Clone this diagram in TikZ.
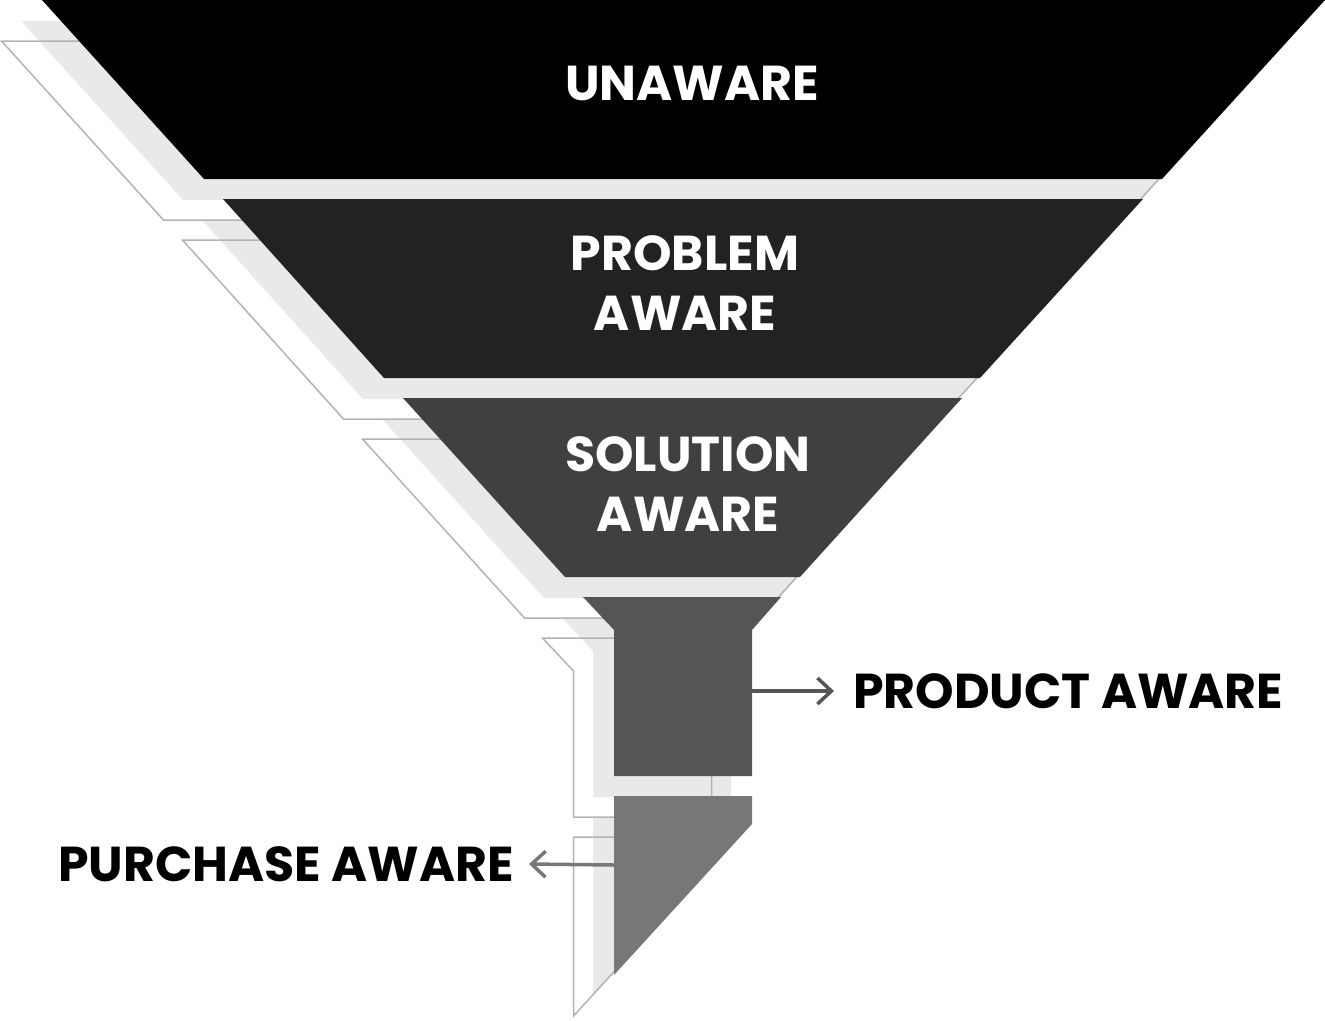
\documentclass[tikz,border=0pt]{standalone}
\usepackage{fontspec}
\setmainfont{Poppins}
\usetikzlibrary{arrows.meta}
\definecolor{segA}{HTML}{000000}
\definecolor{segB}{HTML}{222222}
\definecolor{segC}{HTML}{404040}
\definecolor{segD}{HTML}{555555}
\definecolor{segE}{HTML}{777777}
\definecolor{shadecol}{HTML}{E9E9E9}
\definecolor{rimcol}{HTML}{B3B3B3}
\newcommand\fnlPartA{(42,0) -- (1325,0) -- (1162,179) -- (204,179) -- cycle}
\newcommand\fnlPartB{(223,199) -- (1143,199) -- (980,378) -- (384,378) -- cycle}
\newcommand\fnlPartC{(403,398) -- (962,398) -- (800,577) -- (565,577) -- cycle}
\newcommand\fnlPartD{(583,597) -- (781,597) -- (752,630) -- (752,776) -- (614,776) -- (614,630) -- cycle}
\newcommand\fnlPartE{(614,796) -- (752,796) -- (752,824) -- (614,975) -- cycle}
\tikzset{
  shadowpart/.style={fill=shadecol, shift={(-21,21)}},
  rimpart/.style={draw=rimcol, line width=1.5pt, line join=miter, shift={(-40.5,41)}},
  inlbl/.style={text=white, font=\bfseries\fontsize{49}{60}\selectfont, align=center, inner sep=0pt},
  outlbl/.style={text=black, font=\bfseries\fontsize{49}{60}\selectfont, inner sep=0pt},
  arr/.style={line width=3.5pt, -{Straight Barb[length=14pt,width=26pt]}}
}
\begin{document}
\begin{tikzpicture}[x=1pt,y=-1pt]
\useasboundingbox (0,0) rectangle (1325,1020);
% shadows
\fill[shadowpart] \fnlPartA;
\fill[shadowpart] \fnlPartB;
\fill[shadowpart] \fnlPartC;
\fill[shadowpart] \fnlPartD;
\fill[shadowpart] \fnlPartE;
% rims
\draw[rimpart] \fnlPartA;
\draw[rimpart] \fnlPartB;
\draw[rimpart] \fnlPartC;
\draw[rimpart] \fnlPartD;
\draw[rimpart] \fnlPartE;
% segments
\fill[segA] \fnlPartA;
\fill[segB] \fnlPartB;
\fill[segC] \fnlPartC;
\fill[segD] \fnlPartD;
\fill[segE] \fnlPartE;
% labels
\node[inlbl] (unaware) at (692,83.5) {UNAWARE};
\node[inlbl] (problem) at (685,283.5) {PROBLEM\\AWARE};
\node[inlbl] (solution) at (688,484.5) {SOLUTION\\AWARE};
\node[outlbl, anchor=west] (product) at (853,691) {PRODUCT AWARE};
\node[outlbl, anchor=east] (purchase) at (514,864) {PURCHASE AWARE};
% arrows
\coordinate (prodstart) at (752,691);
\coordinate (purchstart) at (614,865);
\draw[arr, draw=segD] (prodstart) -- ([xshift=-19pt]product.west);
\draw[arr, draw=segE] (purchstart) -- ([xshift=15pt]purchase.east);
\end{tikzpicture}
\end{document}
